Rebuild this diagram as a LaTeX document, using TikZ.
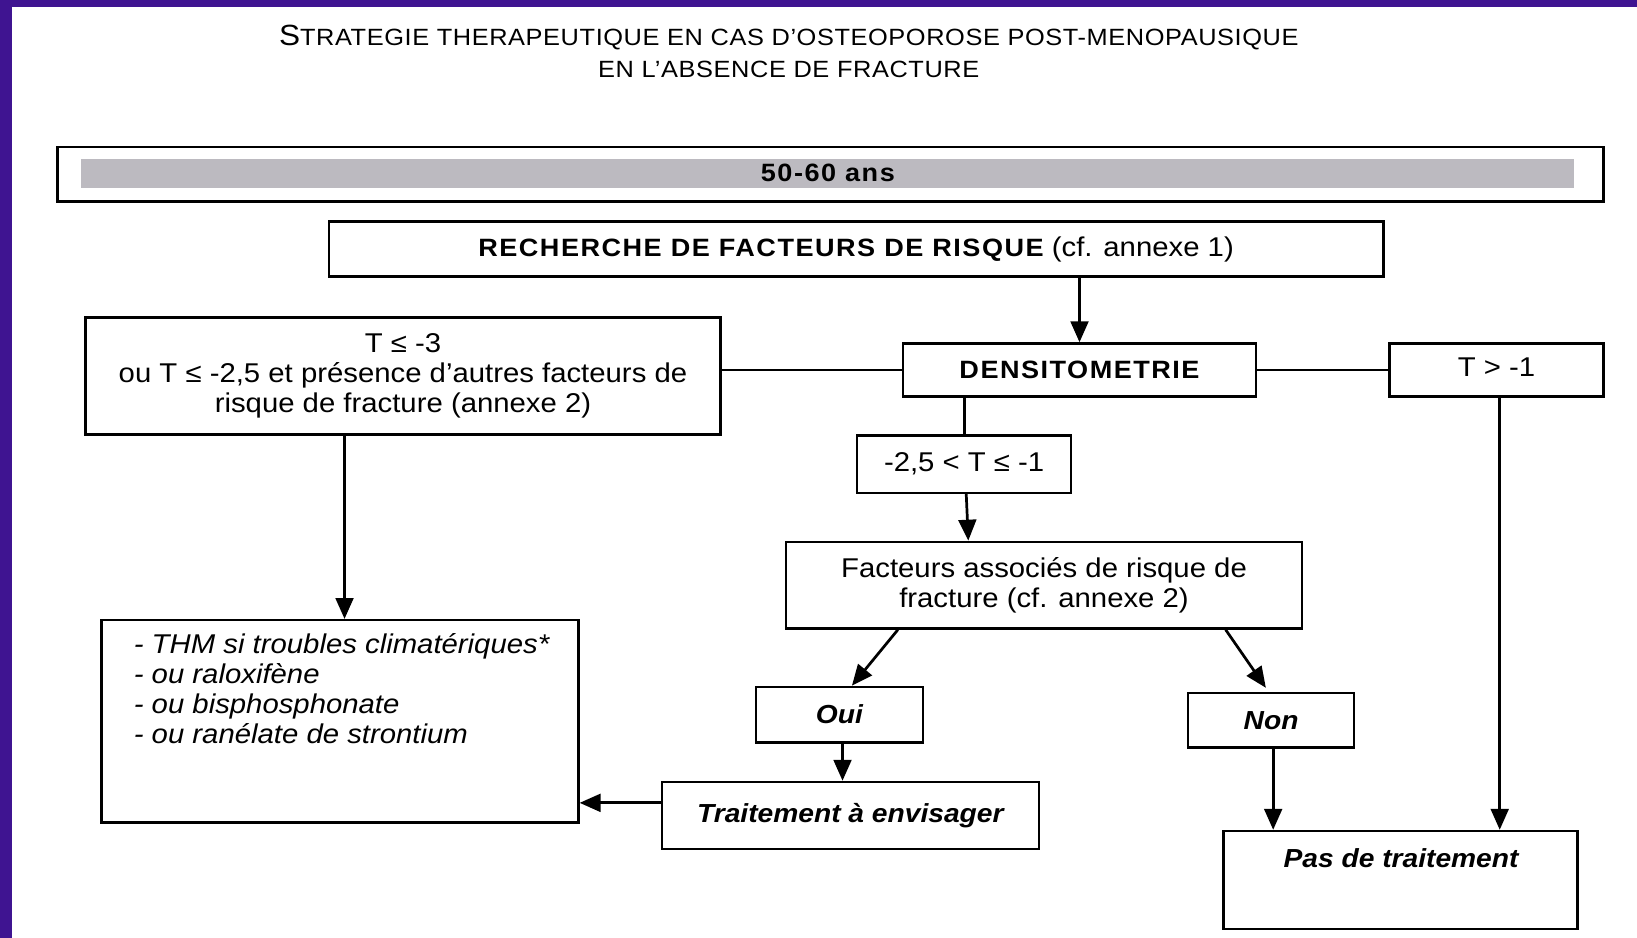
\documentclass[tikz,border=0pt]{standalone}
\usepackage{fontspec}
\setmainfont{Liberation Sans}[FakeStretch=1.08]
\newfontfamily\spaced{Liberation Sans}[FakeStretch=1.08,LetterSpace=6]
\newfontfamily\titlefont{Liberation Sans}[FakeStretch=1.08,LetterSpace=2.5]
\usetikzlibrary{arrows.meta}
\definecolor{framecol}{RGB}{63,20,145}
\definecolor{barcol}{RGB}{188,186,192}
\tikzset{
  box/.style={draw, line width=2.4pt, inner sep=0pt, align=center, font=\fontsize{26}{28.5}\selectfont},
  bbox/.style={box, font=\spaced\bfseries\fontsize{24}{28}\selectfont},
  ibox/.style={box, font=\bfseries\itshape\fontsize{25}{28}\selectfont},
  conn/.style={line width=2.6pt},
  arr/.style={line width=2.6pt, -{Triangle[length=20pt,width=17pt]}}
}
\begin{document}
\begin{tikzpicture}[x=1pt,y=-1pt]
\useasboundingbox (0,0) rectangle (1568,898);
\fill[white] (0,0) rectangle (1568,898);
\fill[framecol] (0,0) rectangle (11.5,898);
\fill[framecol] (0,0) rectangle (1568,6.5);
% title
\node[inner sep=0pt, align=center, font=\titlefont\fontsize{22.5}{31}\selectfont] (title) at (755.5,49)
 {{\fontsize{28}{31}\selectfont S}TRATEGIE THERAPEUTIQUE EN CAS D’OSTEOPOROSE POST-MENOPAUSIQUE\\
  EN L’ABSENCE DE FRACTURE};
% age bar
\node[draw, line width=2.4pt, minimum width=1481pt, minimum height=52pt, inner sep=0pt] (age) at (795.5,167) {};
\fill[barcol] (78,152) rectangle (1508,180);
\node[inner sep=0pt, font=\spaced\bfseries\fontsize{24}{28}\selectfont] (agetxt) at (793,166) {50-60 ans};
% boxes
\node[box, minimum width=1010pt, minimum height=53pt] (rech) at (820,238.5)
 {{\spaced\bfseries\fontsize{24}{28}\selectfont RECHERCHE DE FACTEURS DE RISQUE} (cf. annexe 1)};
\node[box, minimum width=608pt, minimum height=112pt] (tleft) at (386,360)
 {T ≤ -3\\ou T ≤ -2,5 et présence d'autres facteurs de\\risque de fracture (annexe 2)};
\node[bbox, minimum width=338pt, minimum height=51pt] (dens) at (1034,354.5) {DENSITOMETRIE};
\node[box, minimum width=205pt, minimum height=51pt] (tgt) at (1433.5,354.5) {T > -1\strut};
\node[box, minimum width=205pt, minimum height=55pt] (tmid) at (923.5,444.5) {-2,5 < T ≤ -1};
\node[box, minimum width=494pt, minimum height=83pt] (fact) at (1000,560.5)
 {Facteurs associés de risque de\\fracture (cf. annexe 2)};
\node[box, minimum width=457pt, minimum height=194pt] (ttt) at (325.5,691) {};
\node[inner sep=0pt, anchor=north west, align=left, font=\itshape\fontsize{26}{28.5}\selectfont] (ttttxt) at (128,607)
 {- THM si troubles climatériques*\\- ou raloxifène\\- ou bisphosphonate\\- ou ranélate de strontium};
\node[ibox, minimum width=160pt, minimum height=53pt] (oui) at (804,684.5) {Oui};
\node[ibox, minimum width=159pt, minimum height=52pt] (non) at (1217.5,690) {Non};
\node[ibox, minimum width=361pt, minimum height=64pt] (trait) at (814.5,781) {Traitement à envisager};
\node[box, minimum width=339pt, minimum height=94pt] (pas) at (1341.5,843) {};
\node[inner sep=0pt, font=\bfseries\itshape\fontsize{25}{28}\selectfont] (pastxt) at (1342,822) {Pas de traitement};
% connectors
\draw[arr] (rech.south -| dens.north) -- (dens.north);
\draw[conn] (tleft.east |- dens.west) -- (dens.west);
\draw[conn] (dens.east) -- (tgt.west);
\draw[conn] (tmid.north |- dens.south) -- (tmid.north);
\draw[arr] ([xshift=2pt]tmid.south) -- ([xshift=4pt]tmid.south |- fact.north);
\draw[arr] ([xshift=-56pt]tleft.south) -- ([xshift=-56pt]tleft.south |- ttt.north);
\draw[arr] ([xshift=-140pt]fact.south) -- ([xshift=12pt]oui.north);
\draw[arr] ([xshift=174pt]fact.south) -- ([xshift=-5pt,yshift=4pt]non.north);
\draw[arr] ([xshift=3pt]oui.south) -- ([xshift=3pt]oui.south |- trait.north);
\draw[arr] ([yshift=12pt]trait.west) -- ([yshift=12pt]trait.west -| ttt.east);
\draw[arr] ([xshift=2pt]non.south) -- ([xshift=2pt]non.south |- pas.north);
\draw[arr] ([xshift=3pt]tgt.south) -- ([xshift=3pt]tgt.south |- pas.north);
\end{tikzpicture}
\end{document}
